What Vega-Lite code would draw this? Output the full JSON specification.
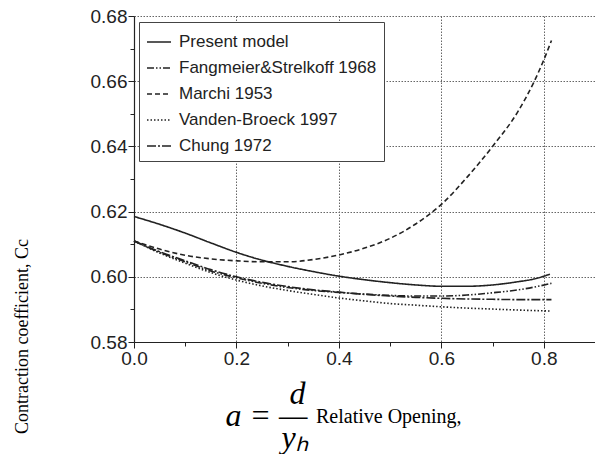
{
  "$schema": "https://vega.github.io/schema/vega-lite/v6.json",
  "width": 461,
  "height": 326,
  "autosize": {"type": "none"},
  "padding": {"left": 134, "top": 16, "right": 0, "bottom": 112},
  "background": "white",
  "config": {"view": {"stroke": null}},
  "title": {"text": "Relative Opening,", "orient": "bottom", "anchor": "start", "frame": "group", "dx": 182, "dy": -50, "font": "Liberation Serif", "fontSize": 20, "fontWeight": "normal", "color": "black"},
  "data": {"values": [
    {"series": "Present model", "x": 0, "y": 0.6185},
    {"series": "Present model", "x": 0.05, "y": 0.6161},
    {"series": "Present model", "x": 0.1, "y": 0.6134},
    {"series": "Present model", "x": 0.15, "y": 0.6104},
    {"series": "Present model", "x": 0.2, "y": 0.6075},
    {"series": "Present model", "x": 0.25, "y": 0.6051},
    {"series": "Present model", "x": 0.3, "y": 0.6032},
    {"series": "Present model", "x": 0.35, "y": 0.6016},
    {"series": "Present model", "x": 0.4, "y": 0.6002},
    {"series": "Present model", "x": 0.45, "y": 0.5991},
    {"series": "Present model", "x": 0.5, "y": 0.5982},
    {"series": "Present model", "x": 0.55, "y": 0.5975},
    {"series": "Present model", "x": 0.6, "y": 0.5971},
    {"series": "Present model", "x": 0.65, "y": 0.5971},
    {"series": "Present model", "x": 0.7, "y": 0.5975},
    {"series": "Present model", "x": 0.75, "y": 0.5985},
    {"series": "Present model", "x": 0.78, "y": 0.5993},
    {"series": "Present model", "x": 0.812, "y": 0.6008},
    {"series": "Fangmeier&Strelkoff 1968", "x": 0, "y": 0.611},
    {"series": "Fangmeier&Strelkoff 1968", "x": 0.05, "y": 0.6075},
    {"series": "Fangmeier&Strelkoff 1968", "x": 0.1, "y": 0.6046},
    {"series": "Fangmeier&Strelkoff 1968", "x": 0.15, "y": 0.6018},
    {"series": "Fangmeier&Strelkoff 1968", "x": 0.2, "y": 0.5997},
    {"series": "Fangmeier&Strelkoff 1968", "x": 0.25, "y": 0.598},
    {"series": "Fangmeier&Strelkoff 1968", "x": 0.3, "y": 0.5967},
    {"series": "Fangmeier&Strelkoff 1968", "x": 0.35, "y": 0.5958},
    {"series": "Fangmeier&Strelkoff 1968", "x": 0.4, "y": 0.5952},
    {"series": "Fangmeier&Strelkoff 1968", "x": 0.45, "y": 0.5947},
    {"series": "Fangmeier&Strelkoff 1968", "x": 0.5, "y": 0.5943},
    {"series": "Fangmeier&Strelkoff 1968", "x": 0.55, "y": 0.5941},
    {"series": "Fangmeier&Strelkoff 1968", "x": 0.6, "y": 0.5941},
    {"series": "Fangmeier&Strelkoff 1968", "x": 0.65, "y": 0.5944},
    {"series": "Fangmeier&Strelkoff 1968", "x": 0.7, "y": 0.5951},
    {"series": "Fangmeier&Strelkoff 1968", "x": 0.75, "y": 0.596},
    {"series": "Fangmeier&Strelkoff 1968", "x": 0.78, "y": 0.5968},
    {"series": "Fangmeier&Strelkoff 1968", "x": 0.815, "y": 0.598},
    {"series": "Marchi 1953", "x": 0, "y": 0.611},
    {"series": "Marchi 1953", "x": 0.05, "y": 0.6085},
    {"series": "Marchi 1953", "x": 0.1, "y": 0.6066},
    {"series": "Marchi 1953", "x": 0.15, "y": 0.6055},
    {"series": "Marchi 1953", "x": 0.2, "y": 0.6049},
    {"series": "Marchi 1953", "x": 0.25, "y": 0.6046},
    {"series": "Marchi 1953", "x": 0.3, "y": 0.6046},
    {"series": "Marchi 1953", "x": 0.35, "y": 0.6053},
    {"series": "Marchi 1953", "x": 0.4, "y": 0.6067},
    {"series": "Marchi 1953", "x": 0.45, "y": 0.6088},
    {"series": "Marchi 1953", "x": 0.5, "y": 0.6118},
    {"series": "Marchi 1953", "x": 0.55, "y": 0.6162},
    {"series": "Marchi 1953", "x": 0.6, "y": 0.6222},
    {"series": "Marchi 1953", "x": 0.65, "y": 0.6305},
    {"series": "Marchi 1953", "x": 0.7, "y": 0.64},
    {"series": "Marchi 1953", "x": 0.75, "y": 0.6508},
    {"series": "Marchi 1953", "x": 0.78, "y": 0.6595},
    {"series": "Marchi 1953", "x": 0.8, "y": 0.6665},
    {"series": "Marchi 1953", "x": 0.815, "y": 0.6725},
    {"series": "Vanden-Broeck 1997", "x": 0, "y": 0.611},
    {"series": "Vanden-Broeck 1997", "x": 0.05, "y": 0.6073},
    {"series": "Vanden-Broeck 1997", "x": 0.1, "y": 0.6042},
    {"series": "Vanden-Broeck 1997", "x": 0.15, "y": 0.6013},
    {"series": "Vanden-Broeck 1997", "x": 0.2, "y": 0.599},
    {"series": "Vanden-Broeck 1997", "x": 0.25, "y": 0.5972},
    {"series": "Vanden-Broeck 1997", "x": 0.3, "y": 0.5958},
    {"series": "Vanden-Broeck 1997", "x": 0.35, "y": 0.5946},
    {"series": "Vanden-Broeck 1997", "x": 0.4, "y": 0.5935},
    {"series": "Vanden-Broeck 1997", "x": 0.45, "y": 0.5926},
    {"series": "Vanden-Broeck 1997", "x": 0.5, "y": 0.5918},
    {"series": "Vanden-Broeck 1997", "x": 0.55, "y": 0.5913},
    {"series": "Vanden-Broeck 1997", "x": 0.6, "y": 0.5908},
    {"series": "Vanden-Broeck 1997", "x": 0.65, "y": 0.5904},
    {"series": "Vanden-Broeck 1997", "x": 0.7, "y": 0.5901},
    {"series": "Vanden-Broeck 1997", "x": 0.75, "y": 0.5898},
    {"series": "Vanden-Broeck 1997", "x": 0.815, "y": 0.5895},
    {"series": "Chung 1972", "x": 0, "y": 0.611},
    {"series": "Chung 1972", "x": 0.05, "y": 0.6077},
    {"series": "Chung 1972", "x": 0.1, "y": 0.6049},
    {"series": "Chung 1972", "x": 0.15, "y": 0.6022},
    {"series": "Chung 1972", "x": 0.2, "y": 0.6},
    {"series": "Chung 1972", "x": 0.25, "y": 0.5983},
    {"series": "Chung 1972", "x": 0.3, "y": 0.597},
    {"series": "Chung 1972", "x": 0.35, "y": 0.596},
    {"series": "Chung 1972", "x": 0.4, "y": 0.5953},
    {"series": "Chung 1972", "x": 0.45, "y": 0.5946},
    {"series": "Chung 1972", "x": 0.5, "y": 0.5941},
    {"series": "Chung 1972", "x": 0.55, "y": 0.5937},
    {"series": "Chung 1972", "x": 0.6, "y": 0.5934},
    {"series": "Chung 1972", "x": 0.65, "y": 0.5932},
    {"series": "Chung 1972", "x": 0.7, "y": 0.5931},
    {"series": "Chung 1972", "x": 0.75, "y": 0.593},
    {"series": "Chung 1972", "x": 0.815, "y": 0.593}
  ]},
  "mark": {"type": "line", "interpolate": "monotone", "strokeWidth": 1.6, "color": "#222"},
  "encoding": {
    "x": {
      "field": "x", "type": "quantitative",
      "scale": {"domain": [0, 0.9], "nice": false, "zero": false},
      "axis": {
        "values": [0, 0.1, 0.2, 0.3, 0.4, 0.5, 0.6, 0.7, 0.8],
        "format": ".1f",
        "labelExpr": "round(datum.value*10)%2==0 ? datum.label : ''",
        "labelFlush": false,
        "labelFont": "Liberation Sans", "labelFontSize": 19, "labelColor": "#222", "labelPadding": 1,
        "tickColor": "#222",
        "tickSize": {"condition": {"test": "round(datum.value*10)%2==0", "value": 6}, "value": 4},
        "domainColor": "#222", "domainWidth": 1.2,
        "grid": true, "gridColor": "#666", "gridDash": [1.5, 1.5],
        "gridOpacity": {"condition": {"test": "round(datum.value*10)%2==0", "value": 1}, "value": 0},
        "title": ["\u200b\u00a0\u00a0\u00a0\u00a0\u00a0\u00a0\u00a0\u00a0d", "a = \u2014", "\u200b\u00a0\u00a0\u00a0\u00a0\u00a0\u00a0\u00a0y\u2095"],
        "titleFont": "Liberation Serif", "titleFontStyle": "italic", "titleFontSize": 32, "titleFontWeight": "normal",
        "titleColor": "black", "titleAlign": "left", "titleBaseline": "alphabetic",
        "titleX": 91, "titleY": 61, "titleLineHeight": 22
      }
    },
    "y": {
      "field": "y", "type": "quantitative",
      "scale": {"domain": [0.58, 0.68], "nice": false, "zero": false},
      "axis": {
        "values": [0.58, 0.59, 0.6, 0.61, 0.62, 0.63, 0.64, 0.65, 0.66, 0.67, 0.68],
        "format": ".2f",
        "labelExpr": "round(datum.value*100)%2==0 ? datum.label : ''",
        "labelFlush": false,
        "labelFont": "Liberation Sans", "labelFontSize": 19, "labelColor": "#222", "labelPadding": 1,
        "tickColor": "#222",
        "tickSize": {"condition": {"test": "round(datum.value*100)%2==0", "value": 6}, "value": 4},
        "domainColor": "#222", "domainWidth": 1.2,
        "grid": true, "gridColor": "#666", "gridDash": [1.5, 1.5],
        "gridOpacity": {"condition": {"test": "round(datum.value*100)%2==0", "value": 1}, "value": 0},
        "title": "Contraction coefficient, Cc",
        "titleFont": "Liberation Serif", "titleFontSize": 18, "titleFontWeight": "normal", "titleColor": "black",
        "titleAngle": -90, "titleAlign": "center", "titleBaseline": "middle",
        "titleX": -112, "titleY": 320
      }
    },
    "strokeDash": {
      "field": "series", "type": "nominal",
      "scale": {
        "domain": ["Present model", "Fangmeier&Strelkoff 1968", "Marchi 1953", "Vanden-Broeck 1997", "Chung 1972"],
        "range": [[1, 0], [7, 2, 1.5, 2, 1.5, 2], [5, 3], [1.5, 2], [9, 2, 2, 2]]
      },
      "legend": {
        "title": null, "orient": "none", "legendX": 5, "legendY": 6, "direction": "vertical",
        "fillColor": "white", "strokeColor": "#444", "padding": 7,
        "symbolType": "stroke", "symbolSize": 576, "symbolStrokeWidth": 1.5, "symbolStrokeColor": "#222",
        "labelFont": "Liberation Sans", "labelFontSize": 17, "labelColor": "#222", "labelLimit": 400,
        "labelOffset": 7, "rowPadding": 5
      }
    }
  }
}
